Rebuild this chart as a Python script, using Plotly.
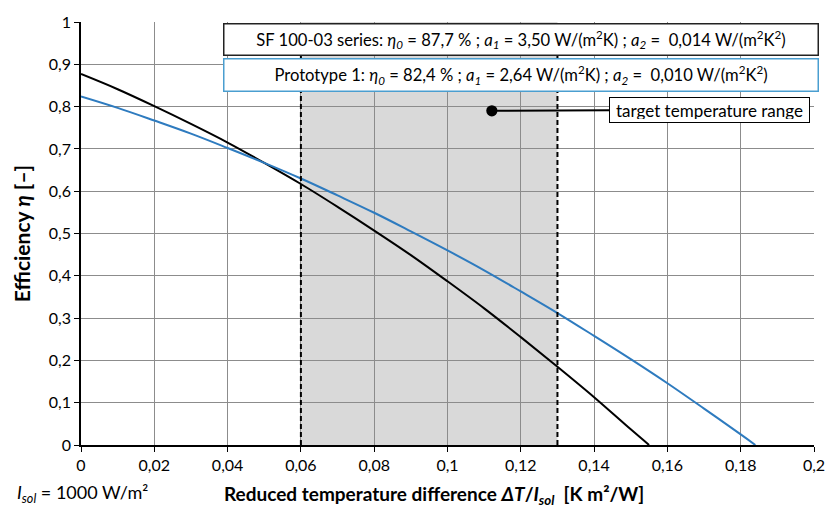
import plotly.graph_objects as go

# Data
x_sf = [0, 0.01, 0.02, 0.03, 0.04, 0.05, 0.06, 0.07, 0.08, 0.09, 0.10, 0.11, 0.12, 0.13, 0.14, 0.15, 0.155]
eta_sf = [0.877, 0.841, 0.801, 0.759, 0.715, 0.667, 0.617, 0.563, 0.507, 0.449, 0.387, 0.323, 0.255, 0.185, 0.113, 0.037, 0.0]

x_proto = [0, 0.01, 0.02, 0.03, 0.04, 0.05, 0.06, 0.07, 0.08, 0.09, 0.10, 0.11, 0.12, 0.13, 0.14, 0.15, 0.16, 0.17, 0.18, 0.184]
eta_proto = [0.824, 0.797, 0.767, 0.736, 0.702, 0.667, 0.630, 0.590, 0.549, 0.505, 0.460, 0.413, 0.363, 0.312, 0.258, 0.203, 0.146, 0.086, 0.025, 0.0]

target_range = [0.06, 0.13]
marker_point = [0.1121, 0.790]

x_ticks = [0, 0.02, 0.04, 0.06, 0.08, 0.1, 0.12, 0.14, 0.16, 0.18, 0.2]
y_ticks = [0, 0.1, 0.2, 0.3, 0.4, 0.5, 0.6, 0.7, 0.8, 0.9, 1]

FONT = "Lato"

fig = go.Figure()

fig.add_trace(go.Scatter(x=x_sf, y=eta_sf, mode="lines", line=dict(color="black", width=2, shape="spline"),
                         showlegend=False, hoverinfo="skip"))
fig.add_trace(go.Scatter(x=x_proto, y=eta_proto, mode="lines", line=dict(color="#2e7bbf", width=2, shape="spline"),
                         showlegend=False, hoverinfo="skip"))

# shaded target range
fig.add_shape(type="rect", xref="x", yref="y", x0=target_range[0], x1=target_range[1], y0=0, y1=1,
              fillcolor="#d9d9d9", line=dict(width=0), layer="below")
for xv in target_range:
    fig.add_shape(type="line", xref="x", yref="y", x0=xv, x1=xv, y0=0, y1=1,
                  line=dict(color="black", width=2, dash="5px,3px"), layer="above")

# legend boxes
fig.add_annotation(xref="paper", yref="paper", x=0.6, y=0.958, xanchor="center", yanchor="middle",
                   text="SF 100-03 series: <i>η<sub>0</sub></i> = 87,7 % ; <i>a<sub>1</sub></i> = 3,50 W/(m<sup>2</sup>K) ; <i>a<sub>2</sub></i> =  0,014 W/(m<sup>2</sup>K<sup>2</sup>)",
                   showarrow=False, width=587, height=24, borderpad=3, borderwidth=1.5,
                   bordercolor="#222222", bgcolor="white", font=dict(family=FONT, size=16.6, color="black"))
fig.add_annotation(xref="paper", yref="paper", x=0.6, y=0.874, xanchor="center", yanchor="middle",
                   text="Prototype 1: <i>η<sub>0</sub></i> = 82,4 % ; <i>a<sub>1</sub></i> = 2,64 W/(m<sup>2</sup>K) ; <i>a<sub>2</sub></i> =  0,010 W/(m<sup>2</sup>K<sup>2</sup>)",
                   showarrow=False, width=587, height=25, borderpad=3, borderwidth=1.5,
                   bordercolor="#4a9ed0", bgcolor="white", font=dict(family=FONT, size=16.6, color="black"))

# target temperature range callout
fig.add_annotation(xref="x", yref="y", x=marker_point[0], y=marker_point[1],
                   ax=218, ay=-1, axref="pixel", ayref="pixel",
                   text="target temperature range", showarrow=True, arrowhead=6, arrowsize=1.4,
                   arrowwidth=2, arrowcolor="black", startstandoff=0,
                   width=193, height=18, borderpad=3, borderwidth=1, bordercolor="black", bgcolor="white",
                   font=dict(family=FONT, size=17, color="black"))

# axis titles as annotations
fig.add_annotation(xref="paper", yref="paper", x=0.482, y=-0.118, xanchor="center", yanchor="middle",
                   text="<b>Reduced temperature difference <i>ΔT</i>/<i>I<sub>sol</sub></i>  [K m²/W]</b>",
                   showarrow=False, font=dict(family=FONT, size=19, color="black"))
fig.add_annotation(xref="paper", yref="paper", x=-0.09, y=-0.115, xanchor="left", yanchor="middle",
                   text="<i>I<sub>sol</sub></i> = 1000 W/m²",
                   showarrow=False, font=dict(family=FONT, size=18, color="black"))

fig.update_layout(
    width=837, height=519,
    margin=dict(l=81, r=14, t=12, b=74),
    paper_bgcolor="white", plot_bgcolor="white",
    separators=",.",
    font=dict(family=FONT, size=16, color="black"),
    showlegend=False,
)
fig.update_xaxes(range=[0, 0.2], tickvals=x_ticks, showgrid=True, gridcolor="#8c8c8c", gridwidth=1,
                 showline=True, linecolor="black", linewidth=1.5, ticks="outside", ticklen=5,
                 tickcolor="black", zeroline=False, mirror=False, tickfont=dict(size=16))
fig.update_yaxes(range=[0, 1], tickvals=y_ticks, showgrid=True, gridcolor="#8c8c8c", gridwidth=1,
                 showline=True, linecolor="black", linewidth=1.5, ticks="outside", ticklen=5,
                 tickcolor="black", zeroline=False, tickfont=dict(size=16),
                 title=dict(text="<b>Efficiency <i>η</i> [–]</b>", font=dict(size=21), standoff=12))

fig.write_html("out.html")
